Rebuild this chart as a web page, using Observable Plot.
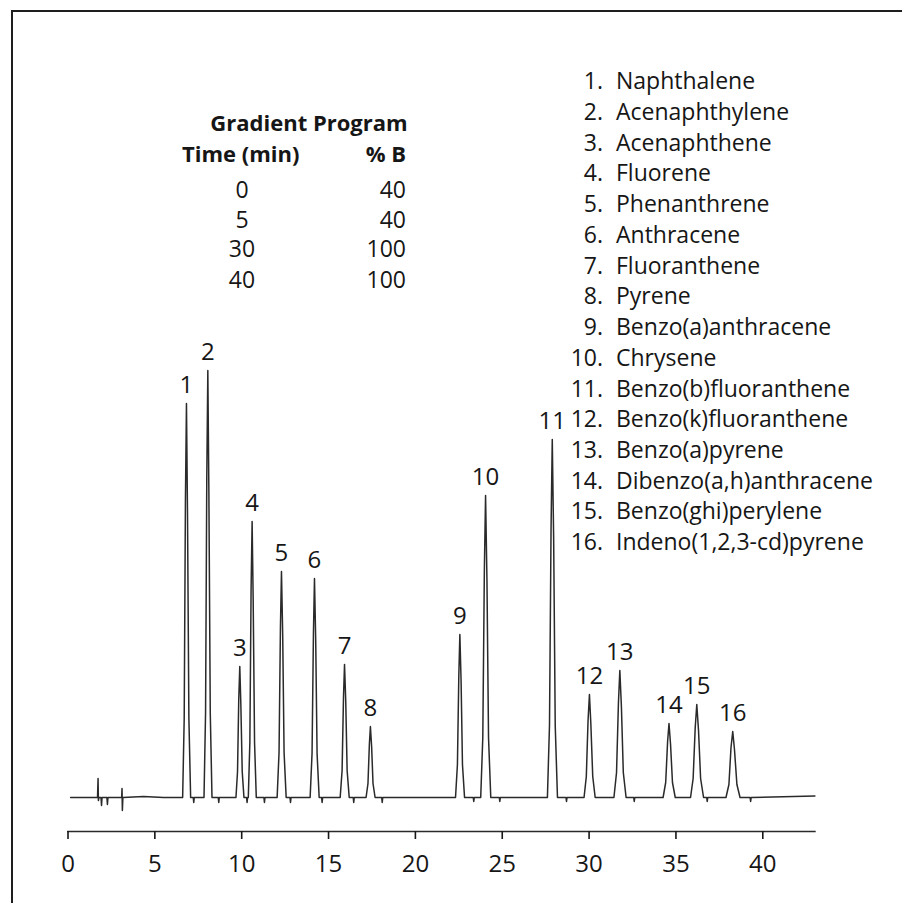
<!DOCTYPE html>
<html>
<head>
<meta charset="utf-8">
<script src="https://cdn.jsdelivr.net/npm/d3@7"></script>
<script src="https://cdn.jsdelivr.net/npm/@observablehq/plot@0.6"></script>
<style>
  body { margin: 0; background: #fff; }
  #wrap { position: relative; width: 902px; height: 903px; overflow: hidden;
          font-family: "Open Sans", sans-serif; color: #161616; }
  #border { position: absolute; left: 11px; top: 10px; width: 1000px; height: 1000px;
            border-top: 2px solid #1e1e1e; border-left: 2px solid #1e1e1e; box-sizing: border-box; }
  #chart { position: absolute; left: 0; top: 0; }
  .row { position: absolute; left: 0; width: 902px; height: 24px; line-height: 24px;
         font-size: 23px; white-space: nowrap; }
  .row.small { font-size: 22px; }
  .row span { position: absolute; }
  .bold { font-weight: 700; }
</style>
</head>
<body>
<div id="wrap">
  <div id="border"></div>
  <div id="chart"></div>
  <div id="notes"></div>
</div>
<script>
// ---- data ----
const compoundNames = [
  "Naphthalene", "Acenaphthylene", "Acenaphthene", "Fluorene", "Phenanthrene",
  "Anthracene", "Fluoranthene", "Pyrene", "Benzo(a)anthracene", "Chrysene",
  "Benzo(b)fluoranthene", "Benzo(k)fluoranthene", "Benzo(a)pyrene",
  "Dibenzo(a,h)anthracene", "Benzo(ghi)perylene", "Indeno(1,2,3-cd)pyrene"
];
const peakLabels = ["1","2","3","4","5","6","7","8","9","10","11","12","13","14","15","16"];
const peakTime   = [6.82, 8.05, 9.89, 10.60, 12.29, 14.19, 15.92, 17.41, 22.56, 24.04, 27.88, 30.02, 31.77, 34.60, 36.20, 38.27];
const peakHeight = [394, 427, 131, 276, 226, 219, 133, 71, 163, 302, 358, 103, 127, 74, 93, 66];

const gradientTime = ["0", "5", "30", "40"];
const gradientB    = ["40", "40", "100", "100"];

const xTicks = [0, 5, 10, 15, 20, 25, 30, 35, 40];

// detector trace (time in min, signal in arbitrary units)
const traceTime = [
  0.15, 1.70, 1.73, 1.75, 1.78, 1.90, 1.93, 1.96, 2.24, 2.27, 2.30, 3.09, 3.11, 3.13, 3.16, 4.35, 5.50,
  6.60, 6.69, 6.76, 6.82, 6.88, 6.96, 7.06, 7.21, 7.24, 7.27,
  7.83, 7.92, 7.99, 8.05, 8.11, 8.19, 8.29, 8.65, 8.68, 8.71,
  9.67, 9.76, 9.83, 9.89, 9.95, 10.03, 10.13, 10.28, 10.31, 10.34,
  10.38, 10.47, 10.54, 10.60, 10.66, 10.74, 10.84, 11.28, 11.31, 11.34,
  12.04, 12.15, 12.23, 12.29, 12.36, 12.44, 12.56, 12.78, 12.81, 12.84,
  13.94, 14.05, 14.13, 14.19, 14.26, 14.34, 14.46, 14.60, 14.63, 14.66,
  15.67, 15.78, 15.86, 15.92, 15.99, 16.07, 16.19, 16.42, 16.45, 16.48,
  17.16, 17.27, 17.35, 17.41, 17.48, 17.56, 17.68, 18.06, 18.09, 18.12,
  22.31, 22.42, 22.50, 22.56, 22.63, 22.71, 22.83, 23.33, 23.36, 23.39,
  23.76, 23.88, 23.97, 24.04, 24.12, 24.21, 24.34, 24.83, 24.86, 24.89,
  27.60, 27.72, 27.81, 27.88, 27.96, 28.05, 28.18, 28.67, 28.70, 28.73,
  29.71, 29.84, 29.94, 30.02, 30.10, 30.21, 30.35,
  31.43, 31.58, 31.69, 31.77, 31.86, 31.97, 32.13, 32.57, 32.60, 32.63,
  34.26, 34.41, 34.52, 34.60, 34.69, 34.80, 34.96,
  35.84, 35.99, 36.11, 36.20, 36.30, 36.42, 36.59, 36.77, 36.80, 36.83,
  37.88, 38.05, 38.17, 38.27, 38.37, 38.51, 38.69, 39.27, 39.30, 39.33,
  43.00
];
const traceSignal = [
  0, 0, 19, -3, 0, 0, -8, 0, 0, -7, 0, 0, 9, -13, 0, 1, 0,
  0, 79, 296, 394, 284, 79, 0, 0, -5, 0,
  0, 85, 320, 427, 307, 85, 0, 0, -5, 0,
  0, 26, 98, 131, 94, 26, 0, 0, -5, 0,
  0, 55, 207, 276, 199, 55, 0, 0, -5, 0,
  0, 45, 170, 226, 163, 45, 0, 0, -5, 0,
  0, 44, 164, 219, 158, 44, 0, 0, -5, 0,
  0, 27, 100, 133, 96, 27, 0, 0, -5, 0,
  0, 14, 53, 71, 51, 14, 0, 0, -5, 0,
  0, 33, 122, 163, 117, 33, 0, 0, -4, 0,
  0, 60, 227, 302, 217, 60, 0, 0, -4, 0,
  0, 72, 269, 358, 258, 72, 0, 0, -4, 0,
  0, 21, 77, 103, 74, 21, 0,
  0, 25, 95, 127, 91, 25, 0, 0, -4, 0,
  0, 15, 56, 74, 53, 15, 0,
  0, 19, 70, 93, 67, 19, 0, 0, -4, 0,
  0, 13, 50, 66, 48, 13, 0, 0, -4, 0,
  1.5
];

// ---- build tables ----
const trace = traceTime.map((t, i) => ({t, s: traceSignal[i]}));
const peaks = peakTime.map((t, i) => ({t, h: peakHeight[i], label: peakLabels[i]}));

const chart = Plot.plot({
  width: 902,
  height: 903,
  marginLeft: 67.5,
  marginRight: 87.6,
  marginTop: 20,
  marginBottom: 72,
  x: {domain: [0, 43]},
  y: {domain: [-34, 777], axis: null},
  style: {fontFamily: '"Open Sans", sans-serif', color: "#161616", background: "transparent", overflow: "visible"},
  marks: [
    Plot.frame({anchor: "bottom", stroke: "#2a2a2a", strokeWidth: 1.6}),
    Plot.axisX({ticks: xTicks, tickSize: 8, tickPadding: 15, label: null, fontSize: 24, strokeWidth: 1.6}),
    Plot.line(trace, {x: "t", y: "s", stroke: "#2a2a2a", strokeWidth: 1.5, strokeLinejoin: "round"}),
    Plot.text(peaks, {x: "t", y: "h", text: "label", dy: -18, fontSize: 24, fill: "#161616"})
  ]
});
document.getElementById("chart").appendChild(chart);

// ---- annotations (compound list and gradient table) ----
const notes = document.getElementById("notes");
function addRow(top, parts, cls) {
  const row = document.createElement("div");
  row.className = "row" + (cls ? " " + cls : "");
  row.style.top = top + "px";
  for (const p of parts) {
    const s = document.createElement("span");
    s.textContent = p.text;
    if (p.bold) s.className = "bold";
    if (p.left != null) s.style.left = p.left + "px";
    if (p.right != null) s.style.right = (902 - p.right) + "px";
    if (p.center != null) { s.style.left = p.center + "px"; s.style.transform = "translateX(-50%)"; }
    row.appendChild(s);
  }
  notes.appendChild(row);
}
const shift = 2.95;
compoundNames.forEach((name, i) => {
  addRow(65.3 + shift + i * 30.73, [
    {text: (i + 1) + ".", right: 603},
    {text: name, left: 616}
  ]);
});
addRow(110.3, [{text: "Gradient Program", bold: true, center: 309}], "small");
addRow(140.8, [{text: "Time (min)", bold: true, left: 182}, {text: "% B", bold: true, right: 406}], "small");
const gradTops = [174.3, 204.3, 233.3, 264.3];
gradientTime.forEach((t, i) => {
  addRow(gradTops[i] + shift, [{text: t, center: 242}, {text: gradientB[i], right: 406}]);
});
</script>
</body>
</html>
